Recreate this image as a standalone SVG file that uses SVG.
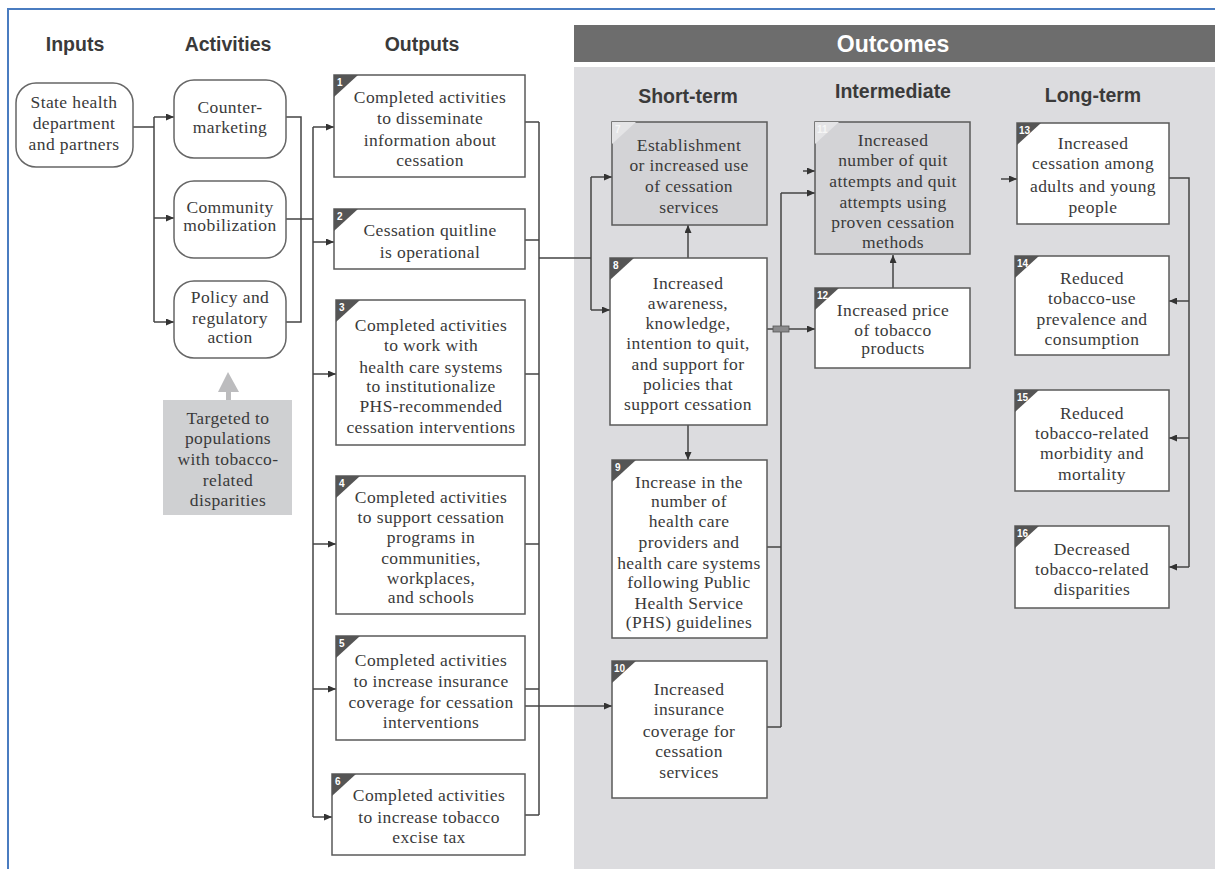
<svg xmlns="http://www.w3.org/2000/svg" width="1215" height="869" viewBox="0 0 1215 869">
<defs>
<marker id="ah" viewBox="0 0 8 7" refX="8" refY="3.5" markerWidth="8" markerHeight="7" markerUnits="userSpaceOnUse" orient="auto">
<path d="M0,0 L8,3.5 L0,7 z" fill="#333"/>
</marker>
<style>
.hd{font-family:"Liberation Sans",Arial,sans-serif;font-weight:bold;font-size:19.5px;fill:#3a3a3a;text-anchor:middle}
.t{font-family:"Liberation Serif","Times New Roman",serif;font-size:17.5px;letter-spacing:0.4px;fill:#3a3a3a;text-anchor:middle}
.box{fill:#fff;stroke:#5a5a5a;stroke-width:1.5}
.gbox{fill:#d3d3d6;stroke:#5a5a5a;stroke-width:1.5}
.rbox{fill:#fff;stroke:#666;stroke-width:1.5}
.tri{fill:#555}
.ltri{fill:#e4e4e6}
.num{font-family:"Liberation Sans",Arial,sans-serif;font-weight:bold;font-size:10px;fill:#fff}
.c{fill:none;stroke:#444;stroke-width:1.5}
.a{fill:none;stroke:#444;stroke-width:1.5;marker-end:url(#ah)}
</style>
</defs>
<rect x="0" y="0" width="1215" height="869" fill="#fff"/>
<path d="M8,869 V9 H1215" fill="none" stroke="#4a7cc0" stroke-width="2"/>

<g id="outcomes-panel">
<rect x="574" y="67" width="641" height="802" fill="#dcdcdf"/>
<rect x="574" y="25" width="641" height="37" fill="#6d6d6d"/>
<text x="893" y="52" class="hd" style="fill:#fff;font-size:23px">Outcomes</text>
</g>

<g id="headers">
<text x="75" y="51" class="hd">Inputs</text>
<text x="228" y="51" class="hd">Activities</text>
<text x="422" y="51" class="hd">Outputs</text>
<text x="688" y="103" class="hd">Short-term</text>
<text x="893" y="98" class="hd">Intermediate</text>
<text x="1093" y="102" class="hd">Long-term</text>
</g>

<g id="connectors">
<path class="c" d="M133,127 H154 M154,117 V322"/>
<path class="a" d="M154,117 H174"/>
<path class="a" d="M154,218 H174"/>
<path class="a" d="M154,322 H174"/>
<path class="c" d="M286,117 H301 V322 H286 M286,219 H313 M313,127 V817"/>
<path class="a" d="M313,127 H334"/>
<path class="a" d="M313,242 H334"/>
<path class="a" d="M313,374 H336"/>
<path class="a" d="M313,544 H336"/>
<path class="a" d="M313,689 H336"/>
<path class="a" d="M313,817 H332"/>
<path class="c" d="M525,122 H539 M525,240 H539 M525,374 H539 M525,544 H539 M525,689 H539 M525,815 H539 M539,122 V815 M539,258 H591 M591,177 V310"/>
<path class="a" d="M591,177 H612"/>
<path class="a" d="M591,310 H610"/>
<path class="a" d="M525,706 H612"/>
<path class="a" d="M688,258 V225"/>
<path class="a" d="M688,425 V460"/>
<path class="c" d="M767,547 H781 M767,727 H781 M781,193 V727"/>
<path class="a" d="M781,193 H815"/>
<path class="a" d="M803,171 H815"/>
<path class="a" d="M767,329 H815"/>
<rect x="773" y="326" width="16" height="6" fill="#8a8a8c" stroke="#555" stroke-width="0.8"/>
<path class="a" d="M893,288 V255"/>
<path class="a" d="M1001,179 H1017"/>
<path class="c" d="M1169,178 H1189 V567"/>
<path class="a" d="M1189,301 H1169"/>
<path class="a" d="M1189,438 H1169"/>
<path class="a" d="M1189,567 H1169"/>
</g>

<g id="inputs">
<rect class="rbox" x="16" y="83" width="117" height="84" rx="20"/>
<text class="t" x="74" y="108">State health</text>
<text class="t" x="74" y="129">department</text>
<text class="t" x="74" y="150">and partners</text>
</g>

<g id="act-counter">
<rect class="rbox" x="174" y="80" width="112" height="78" rx="20"/>
<text class="t" x="230" y="113">Counter-</text>
<text class="t" x="230" y="133">marketing</text>
</g>
<g id="act-community">
<rect class="rbox" x="174" y="181" width="112" height="77" rx="20"/>
<text class="t" x="230" y="213">Community</text>
<text class="t" x="230" y="231">mobilization</text>
</g>
<g id="act-policy">
<rect class="rbox" x="174" y="281" width="112" height="77" rx="20"/>
<text class="t" x="230" y="303">Policy and</text>
<text class="t" x="230" y="324">regulatory</text>
<text class="t" x="230" y="343">action</text>
</g>

<g id="targeted">
<path d="M228,372 L239,392 L231,392 L231,400 L226,400 L226,392 L218,392 z" fill="#bcbcbe"/>
<rect x="163" y="400" width="129" height="115" fill="#cfd0d2"/>
<text class="t" x="228" y="424">Targeted to</text>
<text class="t" x="228" y="444">populations</text>
<text class="t" x="228" y="465">with tobacco-</text>
<text class="t" x="228" y="486">related</text>
<text class="t" x="228" y="506">disparities</text>
</g>

<g id="out1">
<rect class="box" x="334" y="75" width="191" height="102"/>
<polygon class="tri" points="334,75 358,75 334,97"/>
<text class="num" x="337" y="86">1</text>
<text class="t" x="430" y="103">Completed activities</text>
<text class="t" x="430" y="124">to disseminate</text>
<text class="t" x="430" y="146">information about</text>
<text class="t" x="430" y="166">cessation</text>
</g>
<g id="out2">
<rect class="box" x="334" y="209" width="191" height="60"/>
<polygon class="tri" points="334,209 358,209 334,231"/>
<text class="num" x="337" y="220">2</text>
<text class="t" x="430" y="236">Cessation quitline</text>
<text class="t" x="430" y="258">is operational</text>
</g>
<g id="out3">
<rect class="box" x="336" y="300" width="189" height="145"/>
<polygon class="tri" points="336,300 360,300 336,322"/>
<text class="num" x="339" y="311">3</text>
<text class="t" x="431" y="331">Completed activities</text>
<text class="t" x="431" y="351">to work with</text>
<text class="t" x="431" y="373">health care systems</text>
<text class="t" x="431" y="392">to institutionalize</text>
<text class="t" x="431" y="412">PHS-recommended</text>
<text class="t" x="431" y="433">cessation interventions</text>
</g>
<g id="out4">
<rect class="box" x="336" y="476" width="189" height="138"/>
<polygon class="tri" points="336,476 360,476 336,498"/>
<text class="num" x="339" y="487">4</text>
<text class="t" x="431" y="503">Completed activities</text>
<text class="t" x="431" y="523">to support cessation</text>
<text class="t" x="431" y="543">programs in</text>
<text class="t" x="431" y="564">communities,</text>
<text class="t" x="431" y="584">workplaces,</text>
<text class="t" x="431" y="603">and schools</text>
</g>
<g id="out5">
<rect class="box" x="336" y="636" width="189" height="104"/>
<polygon class="tri" points="336,636 360,636 336,658"/>
<text class="num" x="339" y="647">5</text>
<text class="t" x="431" y="666">Completed activities</text>
<text class="t" x="431" y="687">to increase insurance</text>
<text class="t" x="431" y="708">coverage for cessation</text>
<text class="t" x="431" y="728">interventions</text>
</g>
<g id="out6">
<rect class="box" x="332" y="774" width="193" height="81"/>
<polygon class="tri" points="332,774 356,774 332,796"/>
<text class="num" x="335" y="785">6</text>
<text class="t" x="429" y="801">Completed activities</text>
<text class="t" x="429" y="823">to increase tobacco</text>
<text class="t" x="429" y="843">excise tax</text>
</g>

<g id="st7">
<rect class="gbox" x="612" y="122" width="155" height="103"/>
<polygon class="ltri" points="612,122 636,122 612,144"/>
<text class="num" x="615" y="133" style="fill:#f6f6f6">7</text>
<text class="t" x="689" y="151">Establishment</text>
<text class="t" x="689" y="171">or increased use</text>
<text class="t" x="689" y="192">of cessation</text>
<text class="t" x="689" y="213">services</text>
</g>
<g id="st8">
<rect class="box" x="610" y="258" width="157" height="167"/>
<polygon class="tri" points="610,258 634,258 610,280"/>
<text class="num" x="613" y="269">8</text>
<text class="t" x="688" y="289">Increased</text>
<text class="t" x="688" y="309">awareness,</text>
<text class="t" x="688" y="329">knowledge,</text>
<text class="t" x="688" y="349">intention to quit,</text>
<text class="t" x="688" y="370">and support for</text>
<text class="t" x="688" y="390">policies that</text>
<text class="t" x="688" y="410">support cessation</text>
</g>
<g id="st9">
<rect class="box" x="612" y="460" width="155" height="178"/>
<polygon class="tri" points="612,460 636,460 612,482"/>
<text class="num" x="615" y="471">9</text>
<text class="t" x="689" y="488">Increase in the</text>
<text class="t" x="689" y="507">number of</text>
<text class="t" x="689" y="527">health care</text>
<text class="t" x="689" y="548">providers and</text>
<text class="t" x="689" y="569">health care systems</text>
<text class="t" x="689" y="588">following Public</text>
<text class="t" x="689" y="609">Health Service</text>
<text class="t" x="689" y="628">(PHS) guidelines</text>
</g>
<g id="st10">
<rect class="box" x="612" y="661" width="155" height="137"/>
<polygon class="tri" points="612,661 636,661 612,683"/>
<text class="num" x="614" y="672">10</text>
<text class="t" x="689" y="695">Increased</text>
<text class="t" x="689" y="715">insurance</text>
<text class="t" x="689" y="737">coverage for</text>
<text class="t" x="689" y="757">cessation</text>
<text class="t" x="689" y="778">services</text>
</g>

<g id="im11">
<rect class="gbox" x="815" y="122" width="155" height="132"/>
<polygon class="ltri" points="815,122 839,122 815,144"/>
<text class="num" x="817" y="133" style="fill:#f6f6f6">11</text>
<text class="t" x="893" y="146">Increased</text>
<text class="t" x="893" y="166">number of quit</text>
<text class="t" x="893" y="187">attempts and quit</text>
<text class="t" x="893" y="208">attempts using</text>
<text class="t" x="893" y="228">proven cessation</text>
<text class="t" x="893" y="248">methods</text>
</g>
<g id="im12">
<rect class="box" x="815" y="288" width="155" height="80"/>
<polygon class="tri" points="815,288 839,288 815,310"/>
<text class="num" x="817" y="299">12</text>
<text class="t" x="893" y="316">Increased price</text>
<text class="t" x="893" y="336">of tobacco</text>
<text class="t" x="893" y="354">products</text>
</g>

<g id="lt13">
<rect class="box" x="1017" y="123" width="152" height="101"/>
<polygon class="tri" points="1017,123 1041,123 1017,145"/>
<text class="num" x="1019" y="134">13</text>
<text class="t" x="1093" y="149">Increased</text>
<text class="t" x="1093" y="169">cessation among</text>
<text class="t" x="1093" y="192">adults and young</text>
<text class="t" x="1093" y="213">people</text>
</g>
<g id="lt14">
<rect class="box" x="1015" y="256" width="154" height="99"/>
<polygon class="tri" points="1015,256 1039,256 1015,278"/>
<text class="num" x="1017" y="267">14</text>
<text class="t" x="1092" y="284">Reduced</text>
<text class="t" x="1092" y="304">tobacco-use</text>
<text class="t" x="1092" y="325">prevalence and</text>
<text class="t" x="1092" y="345">consumption</text>
</g>
<g id="lt15">
<rect class="box" x="1015" y="390" width="154" height="101"/>
<polygon class="tri" points="1015,390 1039,390 1015,412"/>
<text class="num" x="1017" y="401">15</text>
<text class="t" x="1092" y="419">Reduced</text>
<text class="t" x="1092" y="439">tobacco-related</text>
<text class="t" x="1092" y="459">morbidity and</text>
<text class="t" x="1092" y="480">mortality</text>
</g>
<g id="lt16">
<rect class="box" x="1015" y="526" width="154" height="82"/>
<polygon class="tri" points="1015,526 1039,526 1015,548"/>
<text class="num" x="1017" y="537">16</text>
<text class="t" x="1092" y="555">Decreased</text>
<text class="t" x="1092" y="575">tobacco-related</text>
<text class="t" x="1092" y="595">disparities</text>
</g>
</svg>
